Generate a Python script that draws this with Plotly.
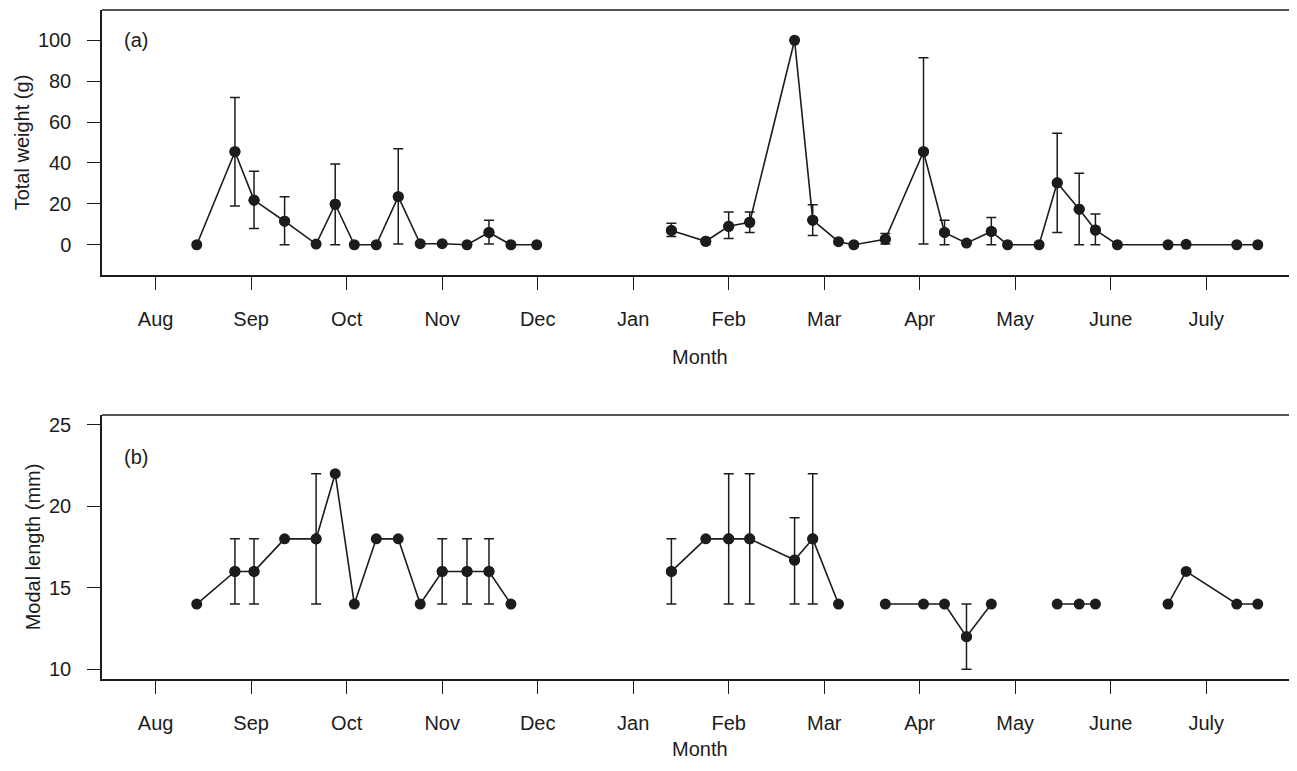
import plotly.graph_objects as go
from plotly.subplots import make_subplots

# Sampling dates, in months after 1 August (Aug = 0 ... July = 11)
sample_month = [0.43, 0.83, 1.03, 1.35, 1.68, 1.88, 2.08, 2.31, 2.54, 2.77,
                3.00, 3.26, 3.49, 3.72, 3.99, 5.40, 5.76, 6.00, 6.22, 6.69,
                6.88, 7.15, 7.31, 7.64, 8.04, 8.26, 8.49, 8.75, 8.92, 9.25,
                9.44, 9.67, 9.84, 10.07, 10.60, 10.79, 11.32, 11.54]

# (a) Total weight (g)
weight = [0, 45.5, 21.8, 11.5, 0.3, 19.8, 0, 0, 23.5, 0.5,
          0.5, 0, 6, 0, 0, 7, 1.7, 9, 11, 100,
          12, 1.5, 0, 2.7, 45.5, 6, 0.8, 6.5, 0, 0,
          30.3, 17.4, 7.2, 0, 0, 0.2, 0, 0]
weight_upper = [None, 72, 36, 23.5, None, 39.5, None, None, 47, None,
                None, None, 12, None, None, 10.5, 2.5, 16, 16, None,
                19.5, None, None, 5.5, 91.5, 12, None, 13.3, None, None,
                54.5, 35, 15, None, None, None, None, None]
weight_lower = [None, 19, 8, 0, None, 0, None, None, 0.3, None,
                None, None, 0.3, None, None, 4, 0.3, 3, 6, None,
                4.5, None, None, 0.3, 0.3, 0, None, 0, None, None,
                6, 0, 0, None, None, None, None, None]

# (b) Modal length (mm)
length = [14, 16, 16, 18, 18, 22, 14, 18, 18, 14,
          16, 16, 16, 14, None, 16, 18, 18, 18, 16.7,
          18, 14, None, 14, 14, 14, 12, 14, None, None,
          14, 14, 14, None, 14, 16, 14, 14]
length_upper = [None, 18, 18, None, 22, None, None, None, None, None,
                18, 18, 18, None, None, 18, None, 22, 22, 19.3,
                22, None, None, None, None, None, 14, None, None, None,
                None, None, None, None, None, None, None, None]
length_lower = [None, 14, 14, None, 14, None, None, None, None, None,
                14, 14, 14, None, None, 14, None, 14, 14, 14,
                14, None, None, None, None, None, 10, None, None, None,
                None, None, None, None, None, None, None, None]

month_labels = ["Aug", "Sep", "Oct", "Nov", "Dec", "Jan", "Feb", "Mar",
                "Apr", "May", "June", "July"]
weight_ticks = [0, 20, 40, 60, 80, 100]
length_ticks = [10, 15, 20, 25]

INK = "#1c1c1c"
FONT = "Liberation Sans, Arial, Helvetica, sans-serif"
FS = 20

fig = make_subplots(rows=2, cols=1, vertical_spacing=0.0)


def with_breaks(xs, ys, gap=1.0):
    ox, oy = [], []
    for i, (x, y) in enumerate(zip(xs, ys)):
        if i > 0 and x - xs[i - 1] > gap:
            ox.append(None)
            oy.append(None)
        ox.append(x)
        oy.append(y)
    return ox, oy


def add_panel(row, ys, up, lo):
    ex, ey, ep, em = [], [], [], []
    for x, y, u, l in zip(sample_month, ys, up, lo):
        if y is not None and u is not None:
            ex.append(x)
            ey.append(y)
            ep.append(u - y)
            em.append(y - l)
    fig.add_trace(go.Scatter(
        x=ex, y=ey, mode="markers",
        marker=dict(size=11, color=INK),
        error_y=dict(type="data", symmetric=False, array=ep, arrayminus=em,
                     color=INK, thickness=1.5, width=5),
        showlegend=False, hoverinfo="skip"), row=row, col=1)
    lx, ly = with_breaks(sample_month, ys)
    fig.add_trace(go.Scatter(
        x=lx, y=ly, mode="lines+markers", connectgaps=False,
        line=dict(color=INK, width=1.6),
        marker=dict(size=11, color=INK),
        showlegend=False), row=row, col=1)


add_panel(1, weight, weight_upper, weight_lower)
add_panel(2, length, length_upper, length_lower)

# The page places the figure 8 px from the top-left corner.
W, H = 1281, 755
L, T, B = 94, 2, 84
ph = H - T - B
pw = W - L
top_dom = [(H - B - 267) / ph, 1.0]
bot_dom = [0.0, (H - B - 407) / ph]


def py(fig_y):
    """figure-pixel y -> paper fraction"""
    return (H - B - fig_y) / ph


def px(fig_x):
    return (fig_x - L) / pw


xcommon = dict(range=[-0.562, 11.867], tickmode="array",
               tickvals=list(range(12)), ticktext=month_labels,
               ticks="outside", ticklen=13, tickwidth=1.3, tickcolor=INK,
               showline=True, linewidth=1.5, linecolor=INK, mirror=False,
               showgrid=False, zeroline=False,
               tickfont=dict(family=FONT, size=FS, color=INK),
               ticklabelstandoff=12)
ycommon = dict(ticks="outside", ticklen=13, tickwidth=1.3, tickcolor=INK,
               showline=True, linewidth=1.5, linecolor=INK, mirror=False,
               showgrid=False, zeroline=False,
               tickfont=dict(family=FONT, size=FS, color=INK),
               ticklabelstandoff=12)

txt = dict(family=FONT, size=FS, color=INK)

fig.update_layout(
    width=W, height=H,
    margin=dict(l=L, r=0, t=T, b=B, autoexpand=False),
    paper_bgcolor="white", plot_bgcolor="white",
    font=txt,
    xaxis=dict(domain=[0, 1], anchor="y", **xcommon),
    xaxis2=dict(domain=[0, 1], anchor="y2", **xcommon),
    yaxis=dict(domain=top_dom, anchor="x", range=[-14.8, 114.8],
               tickvals=weight_ticks,
               title=dict(text="Total weight (g)", font=txt, standoff=3),
               **ycommon),
    yaxis2=dict(domain=bot_dom, anchor="x2", range=[9.4, 25.6],
                tickvals=length_ticks,
                title=dict(text="Modal length (mm)", font=txt, standoff=3),
                **ycommon),
    shapes=[
        dict(type="line", xref="paper", yref="paper", x0=0, x1=1.01,
             y0=top_dom[1], y1=top_dom[1], line=dict(color=INK, width=1.5)),
        dict(type="line", xref="paper", yref="paper", x0=0, x1=1.01,
             y0=bot_dom[1], y1=bot_dom[1], line=dict(color=INK, width=1.5)),
    ],
    annotations=[
        dict(text="(a)", x=px(114), y=py(32), xref="paper", yref="paper",
             showarrow=False, xanchor="left", yanchor="middle", font=txt),
        dict(text="(b)", x=px(114), y=py(449), xref="paper", yref="paper",
             showarrow=False, xanchor="left", yanchor="middle", font=txt),
        dict(text="Month", x=px(692), y=py(349), xref="paper", yref="paper",
             showarrow=False, xanchor="center", yanchor="middle", font=txt),
        dict(text="Month", x=px(692), y=py(741), xref="paper", yref="paper",
             showarrow=False, xanchor="center", yanchor="middle", font=txt),
    ],
)

fig.write_html("out.html")
